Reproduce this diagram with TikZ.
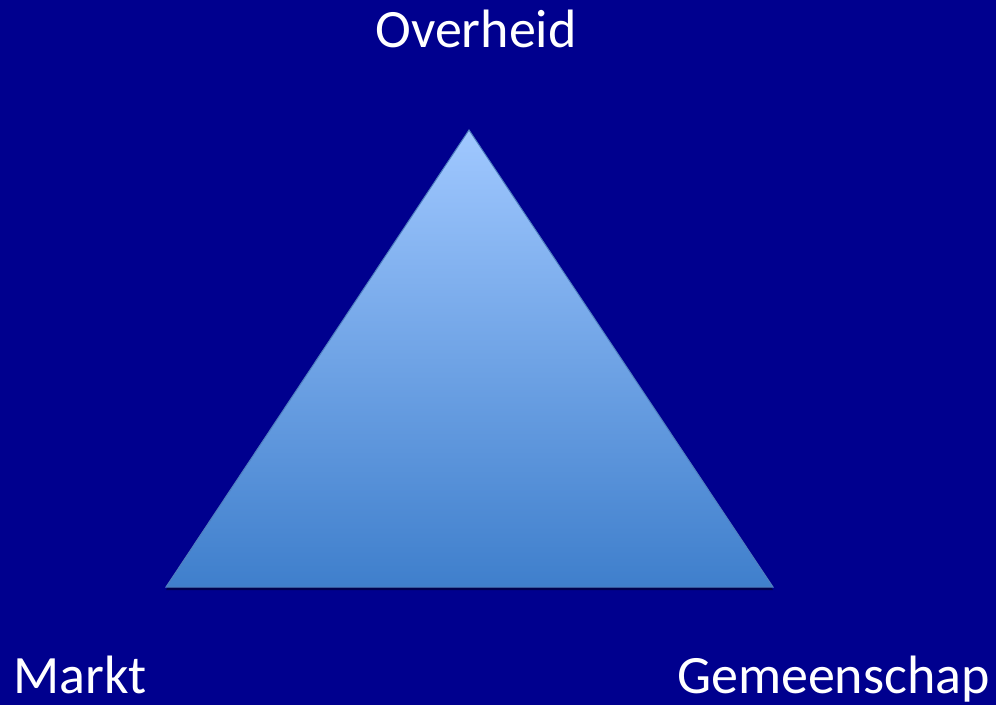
\documentclass[tikz,border=0pt]{standalone}
\usepackage{fontspec}
\setmainfont{Carlito}
\usepackage{xcolor}
\definecolor{bgblue}{HTML}{00008E}
\definecolor{tritop}{HTML}{A0C8FF}
\definecolor{tribot}{HTML}{3F7FCC}
\definecolor{triedge}{HTML}{4F7FBF}
\usetikzlibrary{shadows}

\begin{document}
\begin{tikzpicture}[
  x=1pt, y=1pt,
  font=\fontsize{54}{60}\selectfont,
  L/.style={text=white, inner sep=0pt},
  tri/.style={
    draw=triedge, line width=1pt,
    top color=tritop, bottom color=tribot,
    drop shadow={shadow xshift=0pt, shadow yshift=-3pt, opacity=0.45, fill=black}
  }
]
  \fill[bgblue] (0,0) rectangle (996,705);
  \useasboundingbox (0,0) rectangle (996,705);

  \coordinate (top) at (469,575);
  \coordinate (left) at (166,118);
  \coordinate (right) at (773,118);
  \path[tri] (top) -- (left) -- (right) -- cycle;

  \node[L, anchor=base] (overheid) at (476,657) {Overheid};
  \node[L, anchor=base west] (markt) at (13,12) {Markt};
  \node[L, anchor=base east] (gemeenschap) at (990,12) {Gemeenschap};
\end{tikzpicture}
\end{document}
